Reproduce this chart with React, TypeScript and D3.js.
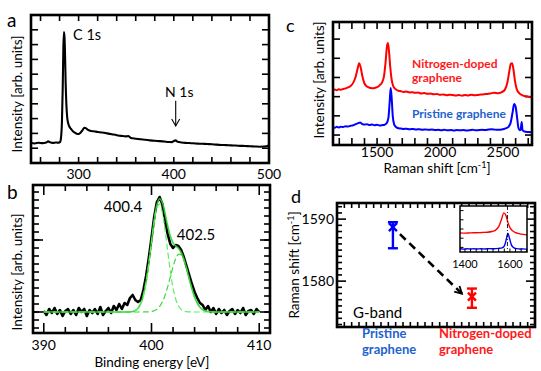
import React from 'react';
import * as d3 from 'd3';

const FONT = 'Lato, "Open Sans", sans-serif';

// ---------- Panel a: XPS survey ----------
const surveyTickLabels = [300, 400, 500];
const surveySpectrum: [number, number][] = [
  [250, 13.5], [254, 13.2], [258, 13.7], [262, 13.4], [266, 13.8], [268, 14.6], [270, 14.0], [273, 13.6],
  [276, 13.9], [278, 13.7], [280.5, 14.2], [281.5, 17], [282.5, 28], [283.3, 50], [284, 78], [284.6, 88.5],
  [285.2, 85], [285.8, 72], [286.4, 54], [287.2, 39], [288, 31], [289, 27], [290, 25], [292, 23],
  [294, 21.5], [296, 20.5], [298, 19.8], [300, 19.6], [302, 20.5], [304, 22], [306, 23.8], [308, 23.4],
  [310, 22.3], [313, 21.6], [316, 21.4], [320, 21.0], [325, 20.6], [330, 20.0], [335, 19.4], [340, 18.8],
  [345, 18.3], [350, 18.0], [352, 18.2], [355, 16.9], [360, 16.4], [365, 16.0], [370, 15.7], [375, 15.3],
  [380, 15.0], [385, 14.8], [390, 14.5], [395, 14.2], [398, 14.1], [400, 14.9], [402, 15.3], [404, 14.3],
  [408, 13.9], [412, 13.6], [416, 13.5], [420, 13.3], [425, 13.1], [430, 13.0], [435, 12.8], [440, 12.7],
  [445, 12.4], [450, 12.2], [455, 12.1], [460, 11.9], [465, 11.8], [470, 11.6], [475, 11.5], [480, 11.3],
  [485, 11.2], [490, 11.0], [495, 11.1], [500, 11.8],
];

// ---------- Panel b: N 1s ----------
const n1sTickLabels = [390, 400, 410];
const n1sStart = 390;
const n1sStep = 0.25;
const n1sCounts = [
  1, -3, 3, -1, 4, -2, 2, -4, 1, 3, -2, 2, -3, 4, 0, 3, -4, 2, -1, 3, -2, 5, -3, 1, 4, -1, 6, 2,
  8, 3, 9, 7, 14, 17, 12, 10, 12, 22, 36, 54, 74, 95, 110, 115, 108, 92, 78, 68, 64, 67, 66, 62,
  55, 46, 37, 28, 20, 14, 9, 7, 2, 6, 0, 4, -2, 3, -1, 2, -3, 1, 3, -2, 2, -1, 4, -3, 1, 2, -2, 3, 0,
];
const fitEnergy = [
  390, 393, 396, 397, 397.25, 397.5, 397.75, 398, 398.25, 398.5, 398.75, 399, 399.25, 399.5, 399.75,
  400, 400.25, 400.5, 400.75, 401, 401.25, 401.5, 401.75, 402, 402.25, 402.5, 402.75, 403, 403.25,
  403.5, 403.75, 404, 404.25, 404.5, 404.75, 405, 405.25, 405.5, 405.75, 406, 408, 410,
];
const fitPeak1 = [
  0, 0, 0, 0, 0, 0.01, 0.05, 0.17, 0.5, 1.46, 3.7, 8.3, 16.7, 30.0, 48.4,
  69.9, 90.2, 104.2, 107.8, 99.7, 82.5, 61.1, 40.5, 24.0, 12.8, 6.1, 2.6, 1.0, 0.33,
  0.1, 0, 0, 0, 0, 0, 0, 0, 0, 0, 0, 0, 0,
];
const fitPeak2 = [
  0, 0, 0, 0, 0, 0, 0, 0, 0, 0, 0, 0, 0.02, 0.07, 0.21,
  0.54, 1.3, 2.7, 5.4, 9.9, 16.4, 25.1, 35.2, 45.2, 53.3, 57.6, 57.1, 51.9, 43.3,
  33.1, 23.2, 15.0, 8.8, 4.8, 2.4, 1.1, 0.45, 0.2, 0.06, 0.02, 0, 0,
];

// ---------- Panel c: Raman ----------
const ramanTickLabels = [1500, 2000, 2500];
const ramanDoped: [number, number][] = [
  [1150, 44.5], [1165, 45.1], [1180, 44.6], [1195, 45.3], [1210, 44.9], [1230, 45.5], [1250, 46.0], [1270, 46.8],
  [1290, 48.0], [1310, 50.5], [1330, 55.5], [1345, 62], [1358, 66.5], [1370, 63], [1385, 55], [1400, 50],
  [1420, 47.5], [1440, 46.5], [1460, 46.2], [1480, 46.4], [1500, 47], [1520, 48.5], [1540, 51], [1555, 56],
  [1568, 68], [1578, 80], [1586, 83], [1594, 77], [1604, 64], [1616, 53], [1630, 47.5], [1650, 45.2],
  [1670, 44.1], [1690, 43.7], [1710, 43.1], [1730, 43.4], [1760, 42.7], [1780, 42.9], [1800, 42.4], [1825, 42.6],
  [1850, 41.9], [1875, 42.2], [1900, 41.6], [1925, 41.8], [1950, 41.2], [1975, 41.5], [2000, 40.8], [2025, 41.1],
  [2050, 40.5], [2075, 40.9], [2100, 40.7], [2125, 40.2], [2150, 40.6], [2175, 40.1], [2200, 40.7], [2225, 40.3],
  [2250, 40.9], [2275, 40.4], [2300, 40.7], [2325, 41.0], [2350, 41.3], [2375, 41.5], [2400, 41.9], [2430, 42.5],
  [2460, 42.0], [2490, 43.0], [2515, 45], [2535, 51], [2550, 60], [2562, 66], [2572, 66.5], [2582, 62],
  [2595, 52], [2610, 45], [2630, 42], [2650, 40.6], [2670, 39.9], [2690, 39.6], [2710, 39.1], [2730, 38.8],
];
const ramanPristine: [number, number][] = [
  [1150, 14.6], [1165, 14.1], [1180, 14.8], [1195, 14.3], [1210, 14.9], [1230, 14.6], [1250, 15.2], [1270, 15.0],
  [1290, 15.6], [1310, 16.0], [1330, 17.0], [1350, 17.8], [1365, 18.2], [1380, 17.2], [1400, 16.6], [1420, 16.9],
  [1440, 16.2], [1460, 16.6], [1480, 16.0], [1500, 16.4], [1520, 15.8], [1540, 16.1], [1560, 16.5], [1575, 17.5],
  [1590, 22], [1600, 35], [1608, 46.3], [1616, 38], [1624, 24], [1635, 17], [1650, 14.6], [1670, 13.6],
  [1690, 13.4], [1710, 13.0], [1730, 13.3], [1760, 12.8], [1785, 13.1], [1810, 12.6], [1835, 12.9], [1860, 12.4],
  [1885, 12.7], [1910, 12.3], [1935, 12.6], [1960, 12.1], [1985, 12.4], [2010, 12.0], [2035, 12.3], [2060, 11.9],
  [2085, 12.2], [2110, 11.8], [2135, 12.1], [2160, 11.9], [2185, 12.2], [2210, 11.8], [2235, 12.0], [2260, 12.3],
  [2285, 11.9], [2310, 12.2], [2335, 12.4], [2360, 12.1], [2385, 12.6], [2410, 12.9], [2435, 12.5], [2460, 12.3],
  [2490, 12.6], [2520, 13.5], [2545, 15], [2560, 18], [2575, 26], [2588, 33.3], [2600, 31], [2612, 22],
  [2622, 14], [2632, 12], [2640, 12.5], [2648, 18.7], [2655, 12], [2670, 11], [2700, 10.6], [2730, 10.4],
];

// ---------- Panel d: G-band shift ----------
const samples = ['Pristine graphene', 'Nitrogen-doped graphene'];
const sampleLines = [['Pristine', 'graphene'], ['Nitrogen-doped', 'graphene']];
const gBandMean = [1588.7, 1577.5];
const gBandLow = [1585.3, 1575.7];
const gBandHigh = [1589.5, 1578.8];
const gBandTickLabels = [1580, 1590];
const insetTickLabels = [1400, 1600];
const insetDoped: [number, number][] = [
  [1378, 41.5], [1400, 41], [1425, 41.6], [1450, 41.8], [1475, 42.4], [1500, 43], [1520, 44.5], [1535, 47],
  [1550, 55], [1562, 70], [1573, 85], [1582, 80], [1590, 66], [1600, 53], [1612, 46], [1625, 42],
  [1640, 40], [1660, 38.2], [1676, 37.2],
];
const insetPristine: [number, number][] = [
  [1378, 7], [1395, 6.2], [1410, 7.1], [1425, 6.4], [1440, 7.2], [1455, 6.5], [1470, 7.0], [1490, 6.6],
  [1510, 7.3], [1530, 7.0], [1550, 7.8], [1565, 9], [1576, 14], [1585, 30], [1591, 41], [1598, 30],
  [1607, 15], [1618, 9], [1630, 7.2], [1645, 6.4], [1660, 6.8], [1676, 5.8],
];
const insetMarker = 1589;

const RED = '#ff0000';
const BLUE = '#0000ff';
const RED_TXT = '#ff1a1a';
const BLUE_TXT = '#1f63cf';

function XTicks({ xs, top, bottom, len, sw = 1.6, bothSides = true }: any) {
  return (
    <g stroke="#000" strokeWidth={sw}>
      {xs.map((x: number, i: number) => (
        <g key={i}>
          <line x1={x} x2={x} y1={bottom} y2={bottom - len} />
          {bothSides && <line x1={x} x2={x} y1={top} y2={top + len} />}
        </g>
      ))}
    </g>
  );
}

function YTicks({ ys, left, right, len, sw = 1.6, bothSides = true }: any) {
  return (
    <g stroke="#000" strokeWidth={sw}>
      {ys.map((y: number, i: number) => (
        <g key={i}>
          <line x1={left} x2={left + len} y1={y} y2={y} />
          {bothSides && <line x1={right} x2={right - len} y1={y} y2={y} />}
        </g>
      ))}
    </g>
  );
}

function Frame({ l, t, r, b, w = 2.6 }: any) {
  return <rect x={l} y={t} width={r - l} height={b - t} fill="none" stroke="#000" strokeWidth={w} />;
}

function RotLabel({ x, y, children, size = 13.5 }: any) {
  return (
    <text transform={`translate(${x},${y}) rotate(-90)`} textAnchor="middle" fontSize={size} fill="#000">
      {children}
    </text>
  );
}

function PanelA() {
  const L = 31, R = 269, T = 15, B = 163;
  const x = d3.scaleLinear().domain([250, 500]).range([L, R]);
  const y = d3.scaleLinear().domain([0, 100]).range([B, T]);
  const line = d3.line<[number, number]>().x(d => x(d[0])).y(d => y(d[1])).curve(d3.curveMonotoneX);
  const ax = x(402);
  return (
    <g>
      <XTicks xs={d3.range(260, 500, 20).map(x)} top={T} bottom={B} len={6} />
      <YTicks ys={d3.range(10, 100, 10).map(y)} left={L} right={R} len={7} />
      <path d={line(surveySpectrum) || ''} fill="none" stroke="#000" strokeWidth={2.1} strokeLinejoin="round" />
      <Frame l={L} t={T} r={R} b={B} />
      {surveyTickLabels.map(v => (
        <text key={v} x={x(v)} y={179} textAnchor="middle" fontSize={14}>{v}</text>
      ))}
      <text x={73} y={40} fontSize={14.5}>C 1s</text>
      <text x={165} y={97} fontSize={14}>N 1s</text>
      <line x1={ax} x2={ax} y1={y(42)} y2={y(25)} stroke="#000" strokeWidth={1.1} />
      <path d={`M${ax - 4},${y(25) - 7}L${ax},${y(25)}L${ax + 4},${y(25) - 7}`} fill="none" stroke="#000" strokeWidth={1.1} />
      <RotLabel x={21.5} y={94}>Intensity [arb. units]</RotLabel>
      <text x={7} y={27} fontSize={19}>a</text>
    </g>
  );
}

function PanelB() {
  const L = 33, R = 270, T = 185, B = 333;
  const x = d3.scaleLinear().domain([389, 411]).range([L, R]);
  const y = d3.scaleLinear().domain([-21, 127]).range([B, T]);
  const data: [number, number][] = n1sCounts.map((v, i) => [n1sStart + i * n1sStep, v]);
  const lineXY = d3.line<[number, number]>().x(d => x(d[0])).y(d => y(d[1]));
  const smooth = d3.line<[number, number]>().x(d => x(d[0])).y(d => y(d[1])).curve(d3.curveCatmullRom);
  const p1: [number, number][] = fitEnergy.map((e, i) => [e, fitPeak1[i]]);
  const p2: [number, number][] = fitEnergy.map((e, i) => [e, fitPeak2[i]]);
  const sum: [number, number][] = fitEnergy.map((e, i) => [e, fitPeak1[i] + fitPeak2[i]]);
  const minorX = d3.range(392, 410, 2).filter(v => v !== 400).map(x);
  const majorX = n1sTickLabels.map(x);
  const minorY = d3.range(-16, 127, 8).map(y);
  return (
    <g>
      <XTicks xs={minorX} top={T} bottom={B} len={6} />
      <XTicks xs={majorX} top={T} bottom={B} len={10} />
      <YTicks ys={minorY} left={L} right={R} len={6} />
      <YTicks ys={[y(0), y(72)]} left={L} right={R} len={10} />
      <path d={lineXY(data.filter(d => d[0] >= 390 && d[0] <= 410)) || ''} fill="none" stroke="#000" strokeWidth={2.6} strokeLinejoin="round" />
      <path d={smooth(sum) || ''} fill="none" stroke="#2fcf2f" strokeWidth={1.6} opacity={0.9} />
      <path d={smooth(p1) || ''} fill="none" stroke="#5fef5f" strokeWidth={1.2} strokeDasharray="6,3" />
      <path d={smooth(p2) || ''} fill="none" stroke="#3ad83a" strokeWidth={1.2} strokeDasharray="6,3" />
      <Frame l={L} t={T} r={R} b={B} />
      {n1sTickLabels.map(v => (
        <text key={v} x={x(v)} y={350} textAnchor="middle" fontSize={14}>{v}</text>
      ))}
      <text x={123} y={212} textAnchor="middle" fontSize={15}>400.4</text>
      <text x={196} y={240} textAnchor="middle" fontSize={15}>402.5</text>
      <text x={152} y={367} textAnchor="middle" fontSize={13.5}>Binding energy [eV]</text>
      <RotLabel x={21.5} y={272}>Intensity [arb. units]</RotLabel>
      <text x={7} y={199} fontSize={19}>b</text>
    </g>
  );
}

function PanelC() {
  const L = 333, R = 532, T = 22, B = 145;
  const x = d3.scaleLinear().domain([1150, 2730]).range([L, R]);
  const y = d3.scaleLinear().domain([0, 100]).range([B, T]);
  const line = d3.line<[number, number]>().x(d => x(d[0])).y(d => y(d[1])).curve(d3.curveMonotoneX);
  return (
    <g>
      <XTicks xs={d3.range(1200, 2730, 100).map(x)} top={T} bottom={B} len={7} />
      <YTicks ys={d3.range(8.1, 100, 15.6).map(y)} left={L} right={R} len={7} />
      <path d={line(ramanDoped) || ''} fill="none" stroke={RED} strokeWidth={2} strokeLinejoin="round" />
      <path d={line(ramanPristine) || ''} fill="none" stroke={BLUE} strokeWidth={2} strokeLinejoin="round" />
      <Frame l={L} t={T} r={R} b={B} />
      {ramanTickLabels.map(v => (
        <text key={v} x={x(v)} y={157} textAnchor="middle" fontSize={14}>{v}</text>
      ))}
      <text x={412} y={68} fontSize={12} fontWeight="bold" fill={RED_TXT}>Nitrogen-doped</text>
      <text x={412} y={82} fontSize={12} fontWeight="bold" fill={RED_TXT}>graphene</text>
      <text x={412} y={118} fontSize={12} fontWeight="bold" fill={BLUE_TXT}>Pristine graphene</text>
      <text x={437} y={173} textAnchor="middle" fontSize={13.5}>
        Raman shift [cm<tspan dy={-5} fontSize={9}>-1</tspan><tspan dy={5}>]</tspan>
      </text>
      <RotLabel x={324} y={80}>Intensity [arb. units]</RotLabel>
      <text x={286} y={32} fontSize={18}>c</text>
    </g>
  );
}

function PanelD() {
  const L = 337, R = 535, T = 203, B = 327;
  const y = d3.scaleLinear().domain([1572.6, 1592.6]).range([B, T]);
  const x = d3.scalePoint<string>().domain(samples).range([L, R]).padding(0.753).align(0.47);
  const frameX = d3.scaleLinear().domain([0, 27]).range([L, R]);
  const colors = [BLUE, RED];
  const txtColors = [BLUE_TXT, RED_TXT];

  // inset
  const iL = 460, iR = 527, iT = 206, iB = 252;
  const ix = d3.scaleLinear().domain([1378, 1676]).range([iL, iR]);
  const iy = d3.scaleLinear().domain([0, 100]).range([iB, iT]);
  const iline = d3.line<[number, number]>().x(d => ix(d[0])).y(d => iy(d[1])).curve(d3.curveMonotoneX);

  const x0 = x(samples[0])!, x1 = x(samples[1])!;
  const sx = x0 + 7, sy = y(gBandMean[0]) + 7;
  const ex = x1 - 10, ey = y(gBandMean[1]) - 3;
  const ang = Math.atan2(ey - sy, ex - sx);
  const ah = 8;
  const a1 = [ex - ah * Math.cos(ang - 0.5), ey - ah * Math.sin(ang - 0.5)];
  const a2 = [ex - ah * Math.cos(ang + 0.5), ey - ah * Math.sin(ang + 0.5)];

  return (
    <g>
      <XTicks xs={d3.range(1, 27, 1).map(frameX)} top={T} bottom={B} len={5} />
      <YTicks ys={d3.range(1573, 1593, 1).filter(v => v % 10 !== 0).map(y)} left={L} right={R} len={5} />
      <YTicks ys={gBandTickLabels.map(y)} left={L} right={R} len={9} />
      <Frame l={L} t={T} r={R} b={B} />
      {gBandTickLabels.map(v => (
        <text key={v} x={334} y={y(v) + 5} textAnchor="end" fontSize={14}>{v}</text>
      ))}
      {samples.map((s, i) => {
        const cx = x(s)!;
        const c = colors[i];
        const cy = y(gBandMean[i]);
        return (
          <g key={s} stroke={c} strokeWidth={2.4}>
            <line x1={cx} x2={cx} y1={y(gBandHigh[i])} y2={y(gBandLow[i])} />
            <line x1={cx - 5} x2={cx + 5} y1={y(gBandHigh[i])} y2={y(gBandHigh[i])} />
            <line x1={cx - 5} x2={cx + 5} y1={y(gBandLow[i])} y2={y(gBandLow[i])} />
            <line x1={cx - 4} x2={cx + 4} y1={cy - 4} y2={cy + 4} />
            <line x1={cx - 4} x2={cx + 4} y1={cy + 4} y2={cy - 4} />
          </g>
        );
      })}
      <line x1={sx} y1={sy} x2={ex} y2={ey} stroke="#000" strokeWidth={2.6} strokeDasharray="8,5" />
      <path d={`M${a1[0]},${a1[1]}L${ex},${ey}L${a2[0]},${a2[1]}`} fill="none" stroke="#000" strokeWidth={1.8} />
      <text x={353} y={318} fontSize={15}>G-band</text>
      {sampleLines.map((lines, i) => (
        <g key={i}>
          {lines.map((t, j) => (
            <text key={j} x={[362, 439][i]} y={338 + j * 16} fontSize={13} fontWeight="bold" fill={txtColors[i]}>{t}</text>
          ))}
        </g>
      ))}
      {/* inset */}
      <rect x={iL} y={iT} width={iR - iL} height={iB - iT} fill="#fff" />
      <path d={iline(insetDoped) || ''} fill="none" stroke={RED} strokeWidth={1.4} />
      <path d={iline(insetPristine) || ''} fill="none" stroke={BLUE} strokeWidth={1.4} />
      <line x1={ix(insetMarker)} x2={ix(insetMarker)} y1={iT} y2={iB} stroke="#000" strokeWidth={0.9} strokeDasharray="4,2,1,2" />
      <XTicks xs={d3.range(1400, 1676, 25).map(ix)} top={iT} bottom={iB} len={3.5} sw={1} bothSides={false} />
      <YTicks ys={d3.range(10, 100, 20).map(iy)} left={iL} right={iR} len={3.5} sw={1} bothSides={false} />
      <rect x={iL} y={iT} width={iR - iL} height={iB - iT} fill="none" stroke="#000" strokeWidth={1.5} />
      {insetTickLabels.map(v => (
        <text key={v} x={ix(v)} y={268} textAnchor="middle" fontSize={11}>{v}</text>
      ))}
      <text transform={`translate(299,265) rotate(-90)`} textAnchor="middle" fontSize={13.5}>
        Raman shift [cm<tspan dy={-5} fontSize={9}>-1</tspan><tspan dy={5}>]</tspan>
      </text>
      <text x={291} y={203} fontSize={18}>d</text>
    </g>
  );
}

export default function App() {
  return (
    <div>
      <style>{'body{margin:0;}'}</style>
      <svg width={541} height={371} style={{ display: 'block', fontFamily: FONT }}>
        <rect width={541} height={371} fill="#fff" />
        <PanelA />
        <PanelB />
        <PanelC />
        <PanelD />
      </svg>
    </div>
  );
}
